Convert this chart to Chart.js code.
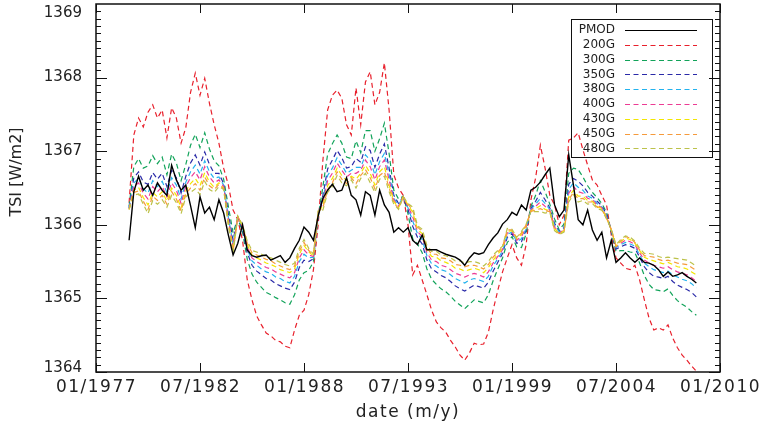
<!DOCTYPE html>
<html>
<head>
<meta charset="utf-8">
<title>TSI reconstructions</title>
<script src="https://cdn.jsdelivr.net/npm/chart.js@4.4.1/dist/chart.umd.min.js"></script>
<style>
  html, body { margin: 0; padding: 0; background: #fff; }
  canvas { display: block; }
</style>
</head>
<body>
<canvas id="tsiChart" width="767" height="435"></canvas>
<script>
// quarterly samples, first one at 1978.75
var firstYear = 1978.75;
var stepYears = 0.25;

var pmod = [
  1365.79,1366.45,1366.66,1366.47,1366.54,1366.40,1366.57,1366.47,1366.40,1366.81,
  1366.61,1366.47,1366.54,1366.26,1365.96,1366.38,1366.16,1366.24,1366.07,1366.34,
  1366.16,1365.86,1365.59,1365.75,1366.00,1365.66,1365.58,1365.56,1365.58,1365.59,
  1365.52,1365.55,1365.58,1365.49,1365.55,1365.68,1365.79,1365.97,1365.90,1365.79,
  1366.12,1366.36,1366.47,1366.55,1366.45,1366.47,1366.64,1366.40,1366.34,1366.13,
  1366.45,1366.40,1366.13,1366.47,1366.27,1366.17,1365.90,1365.96,1365.90,1365.96,
  1365.79,1365.73,1365.86,1365.66,1365.66,1365.66,1365.63,1365.60,1365.58,1365.56,
  1365.52,1365.45,1365.55,1365.62,1365.60,1365.62,1365.73,1365.82,1365.89,1366.01,
  1366.07,1366.17,1366.13,1366.27,1366.20,1366.47,1366.51,1366.58,1366.68,1366.77,
  1366.27,1366.11,1366.20,1366.95,1366.54,1366.07,1366.00,1366.20,1365.93,1365.79,
  1365.90,1365.55,1365.79,1365.49,1365.55,1365.62,1365.55,1365.49,1365.55,1365.49,
  1365.48,1365.45,1365.39,1365.30,1365.36,1365.30,1365.32,1365.35,1365.30,1365.26,
  1365.21
];
var g200 = [
  1366.30,1367.22,1367.45,1367.33,1367.53,1367.63,1367.45,1367.56,1367.18,1367.59,
  1367.45,1367.11,1367.32,1367.80,1368.06,1367.76,1367.99,1367.65,1367.36,1367.11,
  1366.77,1366.54,1366.20,1366.07,1365.79,1365.25,1364.98,1364.76,1364.64,1364.53,
  1364.49,1364.43,1364.41,1364.35,1364.33,1364.57,1364.77,1364.84,1365.05,1365.39,
  1366.00,1366.88,1367.56,1367.76,1367.83,1367.72,1367.36,1367.22,1367.86,1367.36,
  1367.94,1368.08,1367.63,1367.80,1368.20,1367.56,1366.68,1366.50,1366.40,1366.00,
  1365.32,1365.45,1365.25,1365.05,1364.84,1364.68,1364.60,1364.54,1364.43,1364.34,
  1364.23,1364.16,1364.26,1364.39,1364.37,1364.38,1364.54,1364.84,1365.11,1365.36,
  1365.55,1365.73,1365.55,1365.45,1365.73,1366.34,1366.64,1367.08,1366.77,1366.40,
  1366.27,1366.00,1366.13,1367.15,1367.18,1367.25,1367.02,1366.81,1366.61,1366.54,
  1366.40,1366.27,1365.86,1365.55,1365.48,1365.41,1365.39,1365.45,1365.25,1364.98,
  1364.73,1364.57,1364.60,1364.57,1364.64,1364.46,1364.33,1364.23,1364.16,1364.08,
  1364.01
];
var g300 = [
  1366.25,1366.79,1366.90,1366.77,1366.80,1366.94,1366.83,1366.92,1366.68,1366.96,
  1366.84,1366.60,1366.82,1367.08,1367.23,1367.05,1367.25,1367.03,1366.87,1366.80,
  1366.62,1366.25,1365.89,1366.09,1365.90,1365.53,1365.33,1365.22,1365.15,1365.08,
  1365.05,1365.01,1364.98,1364.94,1364.92,1365.05,1365.25,1365.35,1365.38,1365.50,
  1366.10,1366.52,1366.96,1367.10,1367.22,1367.11,1366.92,1366.90,1367.14,1366.98,
  1367.28,1367.28,1367.00,1367.17,1367.38,1366.97,1366.47,1366.35,1366.39,1366.15,
  1365.81,1365.74,1365.62,1365.40,1365.26,1365.19,1365.13,1365.09,1365.03,1364.96,
  1364.91,1364.86,1364.92,1364.98,1364.96,1364.94,1365.05,1365.24,1365.40,1365.55,
  1365.76,1365.84,1365.70,1365.69,1365.88,1366.25,1366.40,1366.60,1366.45,1366.28,
  1366.08,1365.93,1366.01,1366.70,1366.77,1366.75,1366.65,1366.53,1366.44,1366.37,
  1366.29,1366.17,1365.90,1365.64,1365.65,1365.65,1365.63,1365.62,1365.48,1365.31,
  1365.19,1365.12,1365.11,1365.09,1365.13,1365.04,1364.97,1364.92,1364.88,1364.82,
  1364.77
];
var g350 = [
  1366.23,1366.64,1366.72,1366.58,1366.55,1366.71,1366.62,1366.70,1366.52,1366.74,
  1366.64,1366.43,1366.66,1366.84,1366.95,1366.81,1366.99,1366.82,1366.70,1366.70,
  1366.56,1366.15,1365.79,1366.10,1365.94,1365.62,1365.45,1365.37,1365.32,1365.27,
  1365.25,1365.20,1365.17,1365.14,1365.12,1365.22,1365.42,1365.52,1365.50,1365.54,
  1366.13,1366.40,1366.76,1366.88,1367.01,1366.91,1366.77,1366.79,1366.90,1366.85,
  1367.06,1367.01,1366.78,1366.96,1367.10,1366.77,1366.40,1366.29,1366.38,1366.21,
  1365.98,1365.83,1365.74,1365.52,1365.40,1365.36,1365.31,1365.28,1365.23,1365.17,
  1365.13,1365.10,1365.14,1365.18,1365.16,1365.14,1365.22,1365.37,1365.49,1365.61,
  1365.83,1365.88,1365.75,1365.77,1365.93,1366.22,1366.32,1366.44,1366.34,1366.23,
  1366.02,1365.91,1365.96,1366.55,1366.63,1366.59,1366.53,1366.44,1366.39,1366.32,
  1366.26,1366.14,1365.92,1365.67,1365.70,1365.73,1365.71,1365.68,1365.56,1365.43,
  1365.35,1365.30,1365.29,1365.27,1365.30,1365.23,1365.18,1365.15,1365.12,1365.08,
  1365.02
];
var g380 = [
  1366.23,1366.57,1366.63,1366.49,1366.43,1366.60,1366.52,1366.59,1366.44,1366.64,
  1366.54,1366.35,1366.58,1366.72,1366.81,1366.69,1366.87,1366.72,1366.63,1366.65,
  1366.54,1366.10,1365.74,1366.11,1365.96,1365.67,1365.51,1365.45,1365.40,1365.36,
  1365.34,1365.29,1365.27,1365.23,1365.21,1365.30,1365.50,1365.60,1365.55,1365.56,
  1366.15,1366.34,1366.67,1366.77,1366.91,1366.81,1366.70,1366.74,1366.78,1366.78,
  1366.95,1366.88,1366.68,1366.86,1366.97,1366.68,1366.36,1366.27,1366.38,1366.23,
  1366.05,1365.88,1365.80,1365.58,1365.47,1365.44,1365.39,1365.37,1365.32,1365.27,
  1365.24,1365.21,1365.25,1365.27,1365.25,1365.23,1365.30,1365.44,1365.54,1365.64,
  1365.87,1365.90,1365.77,1365.81,1365.95,1366.21,1366.28,1366.36,1366.29,1366.21,
  1365.99,1365.90,1365.94,1366.48,1366.57,1366.51,1366.47,1366.39,1366.36,1366.29,
  1366.24,1366.12,1365.93,1365.69,1365.73,1365.76,1365.74,1365.71,1365.59,1365.48,
  1365.43,1365.39,1365.37,1365.35,1365.37,1365.32,1365.29,1365.26,1365.24,1365.20,
  1365.14
];
var g400 = [
  1366.22,1366.52,1366.57,1366.43,1366.35,1366.52,1366.45,1366.52,1366.38,1366.57,
  1366.47,1366.29,1366.52,1366.64,1366.72,1366.61,1366.79,1366.65,1366.57,1366.61,
  1366.52,1366.07,1365.70,1366.11,1365.97,1365.70,1365.55,1365.50,1365.46,1365.42,
  1365.40,1365.36,1365.33,1365.30,1365.28,1365.35,1365.55,1365.66,1365.59,1365.57,
  1366.16,1366.30,1366.60,1366.70,1366.84,1366.74,1366.65,1366.70,1366.70,1366.74,
  1366.88,1366.79,1366.61,1366.79,1366.88,1366.61,1366.34,1366.25,1366.38,1366.25,
  1366.11,1365.91,1365.84,1365.62,1365.52,1365.50,1365.45,1365.43,1365.39,1365.34,
  1365.32,1365.29,1365.32,1365.34,1365.32,1365.29,1365.36,1365.48,1365.57,1365.66,
  1365.89,1365.91,1365.79,1365.84,1365.97,1366.20,1366.25,1366.31,1366.25,1366.20,
  1365.97,1365.89,1365.93,1366.43,1366.52,1366.45,1366.43,1366.36,1366.34,1366.27,
  1366.23,1366.11,1365.93,1365.70,1365.75,1365.79,1365.77,1365.73,1365.62,1365.52,
  1365.48,1365.45,1365.43,1365.41,1365.43,1365.39,1365.36,1365.34,1365.32,1365.28,
  1365.23
];
var g430 = [
  1366.21,1366.47,1366.51,1366.37,1366.27,1366.44,1366.38,1366.45,1366.32,1366.50,
  1366.40,1366.23,1366.46,1366.56,1366.63,1366.53,1366.71,1366.58,1366.51,1366.57,
  1366.50,1366.04,1365.66,1366.11,1365.98,1365.73,1365.59,1365.55,1365.52,1365.48,
  1365.46,1365.43,1365.39,1365.37,1365.35,1365.40,1365.60,1365.72,1365.63,1365.58,
  1366.17,1366.26,1366.53,1366.63,1366.77,1366.67,1366.60,1366.66,1366.62,1366.70,
  1366.81,1366.70,1366.54,1366.72,1366.79,1366.54,1366.32,1366.23,1366.38,1366.27,
  1366.17,1365.94,1365.88,1365.66,1365.57,1365.56,1365.51,1365.49,1365.46,1365.41,
  1365.40,1365.37,1365.39,1365.41,1365.39,1365.35,1365.42,1365.52,1365.60,1365.68,
  1365.91,1365.92,1365.81,1365.87,1365.99,1366.19,1366.22,1366.26,1366.21,1366.19,
  1365.95,1365.88,1365.92,1366.38,1366.47,1366.39,1366.39,1366.33,1366.32,1366.25,
  1366.22,1366.10,1365.93,1365.71,1365.77,1365.82,1365.80,1365.75,1365.65,1365.56,
  1365.53,1365.51,1365.49,1365.47,1365.49,1365.46,1365.43,1365.42,1365.40,1365.36,
  1365.32
];
var g450 = [
  1366.21,1366.44,1366.46,1366.32,1366.21,1366.39,1366.33,1366.40,1366.28,1366.45,
  1366.35,1366.19,1366.42,1366.50,1366.56,1366.47,1366.65,1366.53,1366.48,1366.55,
  1366.49,1366.01,1365.64,1366.11,1365.99,1365.75,1365.62,1365.59,1365.56,1365.53,
  1365.51,1365.47,1365.44,1365.41,1365.39,1365.44,1365.64,1365.76,1365.65,1365.59,
  1366.18,1366.23,1366.48,1366.57,1366.72,1366.62,1366.56,1366.64,1366.56,1366.67,
  1366.75,1366.64,1366.49,1366.67,1366.72,1366.50,1366.30,1366.22,1366.38,1366.28,
  1366.20,1365.97,1365.91,1365.69,1365.60,1365.60,1365.55,1365.54,1365.51,1365.46,
  1365.45,1365.43,1365.45,1365.45,1365.43,1365.40,1365.46,1365.56,1365.63,1365.70,
  1365.93,1365.93,1365.82,1365.89,1366.00,1366.18,1366.20,1366.22,1366.19,1366.18,
  1365.93,1365.88,1365.91,1366.34,1366.44,1366.35,1366.36,1366.31,1366.31,1366.24,
  1366.21,1366.09,1365.94,1365.72,1365.78,1365.84,1365.82,1365.76,1365.66,1365.58,
  1365.57,1365.56,1365.53,1365.51,1365.52,1365.50,1365.48,1365.47,1365.46,1365.42,
  1365.38
];
var g480 = [
  1366.21,1366.40,1366.42,1366.28,1366.15,1366.33,1366.28,1366.34,1366.24,1366.40,
  1366.30,1366.15,1366.38,1366.44,1366.49,1366.41,1366.59,1366.48,1366.44,1366.52,
  1366.48,1365.99,1365.61,1366.12,1366.00,1365.78,1365.65,1365.63,1365.60,1365.57,
  1365.55,1365.52,1365.49,1365.46,1365.44,1365.48,1365.68,1365.80,1365.68,1365.60,
  1366.19,1366.20,1366.44,1366.52,1366.67,1366.57,1366.53,1366.61,1366.50,1366.63,
  1366.70,1366.57,1366.44,1366.62,1366.66,1366.45,1366.28,1366.21,1366.38,1366.29,
  1366.24,1365.99,1365.94,1365.72,1365.64,1365.64,1365.59,1365.58,1365.55,1365.51,
  1365.51,1365.48,1365.50,1365.50,1365.48,1365.44,1365.50,1365.59,1365.65,1365.71,
  1365.95,1365.94,1365.83,1365.91,1366.01,1366.18,1366.18,1366.18,1366.16,1366.17,
  1365.92,1365.87,1365.90,1366.31,1366.41,1366.31,1366.33,1366.28,1366.29,1366.22,
  1366.20,1366.08,1365.94,1365.73,1365.80,1365.85,1365.83,1365.78,1365.68,1365.61,
  1365.61,1365.60,1365.57,1365.55,1365.56,1365.55,1365.54,1365.53,1365.52,1365.48,
  1365.44
];

var seriesNames = ['PMOD', '200G', '300G', '350G', '380G', '400G', '430G', '450G', '480G'];
var seriesColors = ['#000000', '#e8202c', '#12a35a', '#2a2aa8', '#22b2ee', '#ec3c94', '#f2e600', '#f59a3c', '#bcc24a'];

var xTicks = [1977, 1982.5, 1988, 1993.5, 1999, 2004.5, 2010];
var xTickLabels = ['01/1977', '07/1982', '01/1988', '07/1993', '01/1999', '07/2004', '01/2010'];
var yTicks = [1364, 1365, 1366, 1367, 1368, 1369];

var allSeries = [pmod, g200, g300, g350, g380, g400, g430, g450, g480];

function toPoints(values) {
  return values.map(function (v, i) {
    return { x: firstYear + i * stepYears, y: v };
  });
}

var datasets = allSeries.map(function (values, k) {
  return {
    label: seriesNames[k],
    data: toPoints(values),
    borderColor: seriesColors[k],
    borderWidth: k === 0 ? 1.4 : 1.2,
    borderDash: k === 0 ? [] : [5, 3.5],
    pointRadius: 0,
    fill: false,
    tension: 0,
    // PMOD on top, then 480G ... 200G underneath
    order: k === 0 ? 0 : 9 - k
  };
});

var TEXT_COLOR = '#222';

// axes box, inward ticks, labels and the legend, IDL style
var idlFrame = {
  id: 'idlFrame',
  afterDraw: function (chart) {
    var ctx = chart.ctx;
    var a = chart.chartArea;
    var xs = chart.scales.x;
    var ys = chart.scales.y;

    function seg(x1, y1, x2, y2) {
      ctx.beginPath();
      ctx.moveTo(x1, y1);
      ctx.lineTo(x2, y2);
      ctx.stroke();
    }

    ctx.save();
    ctx.strokeStyle = '#111';
    ctx.lineWidth = 1.5;
    ctx.strokeRect(a.left, a.top, a.right - a.left, a.bottom - a.top);

    // y ticks: majors every 1, minors every 0.1
    ctx.lineWidth = 1;
    for (var j = 0; j < yTicks.length - 1; j++) {
      for (var m = 0; m < 10; m++) {
        var py = Math.round(ys.getPixelForValue(yTicks[j] + m / 10)) + 0.5;
        var len = m === 0 ? 11 : 5;
        seg(a.left, py, a.left + len, py);
        seg(a.right, py, a.right - len, py);
      }
    }
    ctx.font = '15px "DejaVu Sans"';
    ctx.fillStyle = TEXT_COLOR;
    ctx.textAlign = 'right';
    ctx.textBaseline = 'middle';
    yTicks.forEach(function (v) {
      var py = ys.getPixelForValue(v);
      var ly = Math.min(Math.max(py, a.top + 9), a.bottom - 4);
      ctx.fillText(String(v), a.left - 14, ly);
    });

    // x ticks and labels
    ctx.font = '17px "DejaVu Sans"';
    ctx.letterSpacing = '1.5px';
    ctx.textAlign = 'center';
    xTicks.forEach(function (v, i) {
      var px = Math.round(xs.getPixelForValue(v)) + 0.5;
      seg(px, a.bottom, px, a.bottom - 9);
      seg(px, a.top, px, a.top + 9);
      ctx.fillText(xTickLabels[i], px, a.bottom + 16);
    });

    // axis titles
    ctx.fillText('date (m/y)', (a.left + a.right) / 2, a.bottom + 41);
    ctx.letterSpacing = '0px';
    ctx.font = '16px "DejaVu Sans"';
    ctx.save();
    ctx.translate(17, 172);
    ctx.rotate(-Math.PI / 2);
    ctx.fillText('TSI [W/m2]', 0, 0);
    ctx.restore();

    // legend box
    var bx = 571, by = 19, bw = 141, bh = 138;
    ctx.lineWidth = 1;
    ctx.strokeRect(bx + 0.5, by + 0.5, bw, bh);
    ctx.font = '12px "DejaVu Sans"';
    ctx.textAlign = 'right';
    chart.data.datasets.forEach(function (ds, i) {
      var ly = by + 11 + i * 14.8;
      ctx.fillStyle = TEXT_COLOR;
      ctx.fillText(ds.label, bx + 44, ly);
      ctx.strokeStyle = ds.borderColor;
      ctx.lineWidth = 1.2;
      ctx.setLineDash(ds.borderDash);
      seg(bx + 54, Math.round(ly) + 0.5, bx + 126, Math.round(ly) + 0.5);
      ctx.setLineDash([]);
    });
    ctx.restore();
  }
};

new Chart(document.getElementById('tsiChart').getContext('2d'), {
  type: 'line',
  data: { datasets: datasets },
  options: {
    responsive: false,
    animation: false,
    layout: { padding: { left: 0, right: 47, top: 4, bottom: 0 } },
    plugins: {
      legend: { display: false },
      tooltip: { enabled: false }
    },
    scales: {
      x: {
        type: 'linear',
        min: 1977,
        max: 2010,
        grid: { display: false },
        border: { display: false },
        ticks: { display: false },
        afterFit: function (s) { s.height = 63; }
      },
      y: {
        min: 1364,
        max: 1369,
        grid: { display: false },
        border: { display: false },
        ticks: { display: false },
        afterFit: function (s) { s.width = 96; }
      }
    }
  },
  plugins: [idlFrame]
});
</script>
</body>
</html>
